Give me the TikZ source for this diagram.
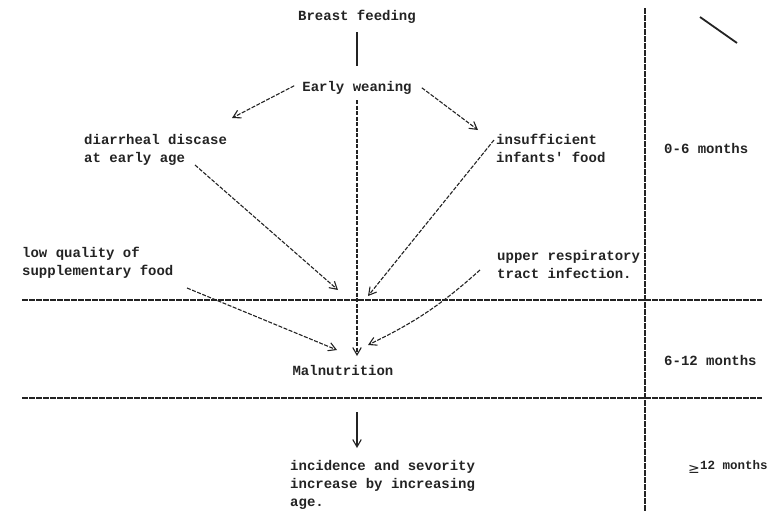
\documentclass[tikz,border=0pt]{standalone}
\usepackage{fontspec}
\setmonofont{Liberation Mono}
\usetikzlibrary{arrows.meta,positioning}
\definecolor{ink}{RGB}{35,35,35}
\tikzset{
  txt/.style={font=\ttfamily\bfseries\fontsize{14}{18}\selectfont,text=ink,inner sep=0pt,align=left},
  flow/.style={draw=ink,line width=1.1pt,dash pattern=on 4pt off 1.5pt,-{Straight Barb[length=2.6mm,width=3mm]}},
  rule/.style={draw=ink,line width=1.3pt,dash pattern=on 6pt off 1pt},
  sarr/.style={draw=ink,line width=1.1pt,-{Straight Barb[length=2.6mm,width=3mm]}},
}
\begin{document}
\begin{tikzpicture}[x=1pt,y=-1pt]
\useasboundingbox (0,0) rectangle (772,512);
% period rules
\draw[rule] (22,300) -- (762,300);
\draw[rule] (22,398) -- (762,398);
\draw[rule] (645,8) -- (645,512);
\draw[draw=ink,line width=1.8pt] (700,17) -- (737,43);
% causes
\node[txt,anchor=north] (bf) at (357,10) {Breast feeding};
\node[txt,anchor=north] (ew) at (357,81) {Early weaning};
\node[txt,anchor=north west] (dd) at (84,134) {diarrheal discase\\at early age};
\node[txt,anchor=north west] (inf) at (496,134) {insufficient\\infants' food};
\node[txt,anchor=north west] (lq) at (22,247) {low quality of\\supplementary food};
\node[txt,anchor=north west] (ur) at (497,250) {upper respiratory\\tract infection.};
\node[txt,anchor=north] (mal) at (343,365) {Malnutrition};
\node[txt,anchor=north west] (inc) at (290,460) {incidence and sevority\\increase by increasing\\age.};
% periods
\node[txt,anchor=west] (p1) at (664,148) {0-6 months};
\node[txt,anchor=west] (p2) at (664,360) {6-12 months};
\node[txt,anchor=west,font=\ttfamily\bfseries\fontsize{12.5}{15}\selectfont] (p3) at (700,465) {12 months};
\node[font=\fontspec{DejaVu Sans}\fontsize{14}{14}\selectfont,text=ink,inner sep=0pt,left=0pt of p3,yshift=-4pt] (ge) {≥};
% connectors
\coordinate (m) at (357,356);
\draw[draw=ink,line width=1.1pt] (bf.south |- 0,32) -- (bf.south |- 0,66);
\draw[flow] (ew.south |- 0,100) -- (m);
\draw[flow] (ew.west) ++(-8,-2) -- (232,118);
\draw[flow] (ew.east) ++(10,0) -- (478,130);
\draw[flow] (195,165) -- (338,290);
\draw[flow] (inf.north west) ++(-2,6) -- (368,296);
\draw[flow] (187,288) -- (337,350);
\draw[flow] (480,270) to[bend left=8] (368,345);
\draw[sarr] (357,412) -- (357,448);
\end{tikzpicture}
\end{document}
